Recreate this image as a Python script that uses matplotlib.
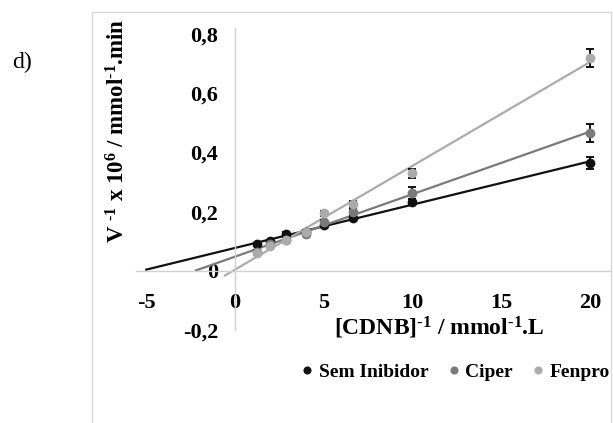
import numpy as np
import matplotlib
matplotlib.use("Agg")
import matplotlib.pyplot as plt

plt.rcParams['font.family'] = ['Liberation Serif', 'DejaVu Serif']
plt.rcParams['font.weight'] = 'bold'
plt.rcParams['mathtext.fontset'] = 'custom'
plt.rcParams['mathtext.rm'] = 'Liberation Serif:bold'
plt.rcParams['mathtext.it'] = 'Liberation Serif:bold'
plt.rcParams['mathtext.bf'] = 'Liberation Serif:bold'

# 1/[CDNB] values and 1/V for each condition
x_inv = [1.25, 2.0, 2.86, 4.0, 5.0, 6.67, 10.0, 20.0]
sem = [0.09, 0.10, 0.125, 0.132, 0.155, 0.178, 0.232, 0.365]
sem_err = [0.005, 0.005, 0.005, 0.005, 0.006, 0.006, 0.010, 0.020]
ciper = [0.065, 0.09, 0.105, 0.125, 0.165, 0.20, 0.262, 0.465]
ciper_err = [0.005, 0.005, 0.005, 0.006, 0.008, 0.010, 0.020, 0.030]
fenpro = [0.06, 0.085, 0.105, 0.13, 0.195, 0.225, 0.33, 0.72]
fenpro_err = [0.005, 0.005, 0.005, 0.006, 0.008, 0.010, 0.015, 0.030]

names = ['Sem Inibidor', 'Ciper', 'Fenpro']
colors = ['#111111', '#7a7a7a', '#ababab']
trend_start = [-5.0, -2.2, -0.56]

x_ticks = [-5, 0, 5, 10, 15, 20]
y_ticks = [-0.2, 0.0, 0.2, 0.4, 0.6, 0.8]
y_ticklabels = ['-0,2', '0', '0,2', '0,4', '0,6', '0,8']

fig = plt.figure(figsize=(6.13, 4.23), dpi=100)
ax = fig.add_axes([0.2212, 0.2199, 0.776, 0.7132])

series = [(sem, sem_err), (ciper, ciper_err), (fenpro, fenpro_err)]
x = np.array(x_inv)
for (y, err), name, c, xs in zip(series, names, colors, trend_start):
    y = np.array(y)
    # linear trendline (Lineweaver-Burk), extended backwards
    m, b = np.polyfit(x, y, 1)
    xl = np.array([xs, x.max()])
    ax.plot(xl, m * xl + b, color=c, lw=1.6, zorder=2)
    ax.errorbar(x, y, yerr=err, fmt='none', ecolor='black', elinewidth=1.3,
                capsize=3, capthick=1.3, zorder=3)
    ax.plot(x, y, 'o', color=c, ms=6, zorder=4, label=name)

ax.set_xlim(-5.6, 21.2)
ax.set_ylim(-0.2, 0.82)
ax.spines['left'].set_position(('data', 0))
ax.spines['bottom'].set_position(('data', 0))
for s in ['top', 'right']:
    ax.spines[s].set_visible(False)
for s in ['left', 'bottom']:
    ax.spines[s].set_color('#d0d0d0')
    ax.spines[s].set_linewidth(1.0)

ax.set_xticks(x_ticks)
ax.set_xticklabels([str(t) for t in x_ticks])
ax.set_yticks(y_ticks)
ax.set_yticklabels(y_ticklabels)
ax.tick_params(axis='both', length=0, labelsize=16)
ax.tick_params(axis='x', pad=16)
ax.tick_params(axis='y', pad=12)

hy = '\u2010'
fig.text(0.717, 0.226, '[CDNB]$^{%s1}$ / mmol$^{%s1}$.L' % (hy, hy), ha='center',
         va='center', fontsize=17, fontweight='bold')
fig.text(0.193, 0.69, 'V $^{%s1}$ x 10$^{6}$ / mmol$^{%s1}$.min' % (hy, hy),
         ha='center', va='center', rotation=90, fontsize=16.5, fontweight='bold')
fig.text(0.036, 0.853, 'd)', ha='center', va='center', fontsize=17,
         fontweight='normal')

fig.legend(loc='center', bbox_to_anchor=(0.74, 0.12), ncol=3, frameon=False,
           fontsize=14, handletextpad=0.1, columnspacing=0.8, markerscale=0.8,
           handlelength=1.0)

# outer chart frame (open at bottom)
fx0, fx1, fy1 = 92 / 613, 611 / 613, 1 - 12 / 423
frame_kw = dict(color='#d9d9d9', lw=1.0, transform=fig.transFigure)
fig.add_artist(plt.Line2D([fx0, fx0], [0, fy1], **frame_kw))
fig.add_artist(plt.Line2D([fx0, fx1], [fy1, fy1], **frame_kw))
fig.add_artist(plt.Line2D([fx1, fx1], [0, fy1], **frame_kw))

fig.savefig('out.png', dpi=100)
